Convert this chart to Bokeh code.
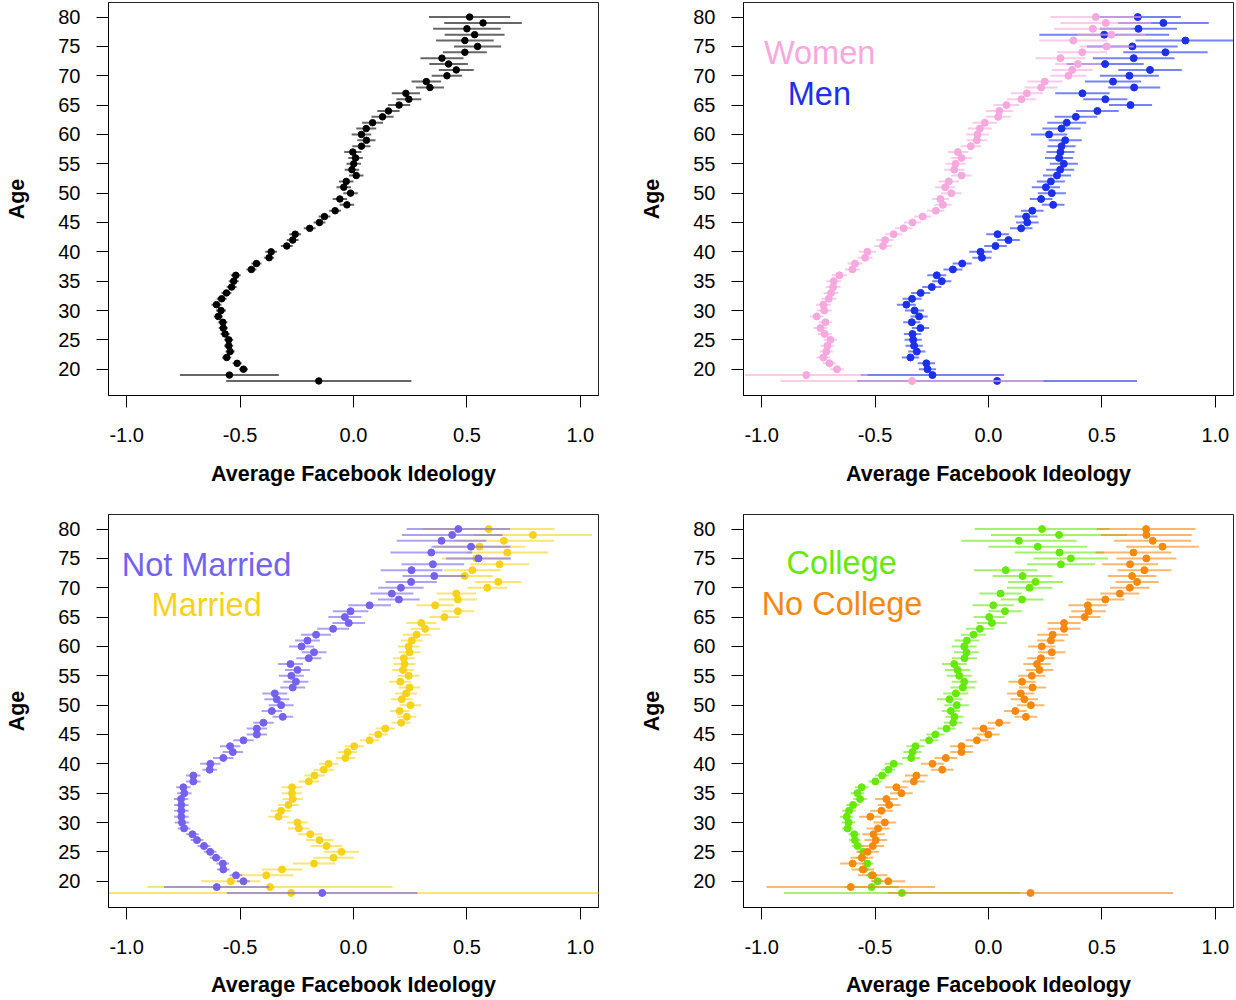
from bokeh.plotting import figure
from bokeh.layouts import column, row
from bokeh.models import Range1d, Label, FixedTicker, PrintfTickFormatter
from bokeh.embed import file_html
from bokeh.resources import INLINE

ages = list(range(18, 81))
x_ticks = [-1.0, -0.5, 0.0, 0.5, 1.0]
y_ticks = [20, 25, 30, 35, 40, 45, 50, 55, 60, 65, 70, 75, 80]

# ---- Panel 1: all users (ages 18..80)
all_mean = [-0.153, -0.547, -0.485, -0.513, -0.559, -0.544, -0.550, -0.550, -0.566, -0.574,
            -0.576, -0.596, -0.584, -0.604, -0.581, -0.560, -0.537, -0.528, -0.519, -0.450,
            -0.428, -0.372, -0.363, -0.294, -0.268, -0.257, -0.193, -0.150, -0.128, -0.081,
            -0.029, -0.060, -0.013, -0.043, -0.032, 0.012, -0.007, 0.001, 0.009, -0.003,
            0.035, 0.057, 0.035, 0.056, 0.084, 0.128, 0.154, 0.201, 0.244, 0.231,
            0.337, 0.321, 0.412, 0.453, 0.419, 0.390, 0.491, 0.547, 0.491, 0.534,
            0.500, 0.571, 0.512]
all_err = [0.408, 0.218, 0.020, 0.020, 0.020, 0.020, 0.020, 0.020, 0.020, 0.020,
           0.020, 0.020, 0.022, 0.022, 0.022, 0.022, 0.022, 0.022, 0.022, 0.022,
           0.022, 0.022, 0.026, 0.026, 0.026, 0.026, 0.026, 0.026, 0.026, 0.026,
           0.032, 0.032, 0.032, 0.032, 0.032, 0.032, 0.032, 0.032, 0.032, 0.038,
           0.040, 0.040, 0.043, 0.044, 0.046, 0.049, 0.049, 0.049, 0.055, 0.062,
           0.062, 0.065, 0.067, 0.077, 0.085, 0.095, 0.097, 0.104, 0.127, 0.132,
           0.149, 0.171, 0.179]

# ---- Panel 2: women / men
women_mean = [-0.337, -0.803, -0.668, -0.701, -0.728, -0.715, -0.710, -0.697, -0.722, -0.741,
              -0.719, -0.757, -0.724, -0.728, -0.704, -0.694, -0.685, -0.682, -0.657, -0.600,
              -0.588, -0.544, -0.534, -0.465, -0.456, -0.418, -0.374, -0.335, -0.290, -0.232,
              -0.201, -0.212, -0.164, -0.191, -0.175, -0.119, -0.151, -0.145, -0.119, -0.135,
              -0.078, -0.051, -0.048, -0.038, -0.016, 0.043, 0.048, 0.079, 0.145, 0.169,
              0.232, 0.248, 0.352, 0.369, 0.394, 0.317, 0.413, 0.521, 0.374, 0.542,
              0.460, 0.517, 0.473]
women_err = [0.580, 0.270, 0.030, 0.030, 0.030, 0.030, 0.030, 0.030, 0.030, 0.030,
             0.030, 0.030, 0.033, 0.033, 0.033, 0.033, 0.033, 0.033, 0.033, 0.033,
             0.033, 0.033, 0.038, 0.038, 0.038, 0.038, 0.038, 0.038, 0.038, 0.038,
             0.038, 0.038, 0.045, 0.045, 0.045, 0.045, 0.045, 0.045, 0.045, 0.045,
             0.045, 0.045, 0.050, 0.053, 0.055, 0.055, 0.059, 0.057, 0.064, 0.070,
             0.073, 0.077, 0.080, 0.090, 0.100, 0.110, 0.110, 0.120, 0.150, 0.150,
             0.170, 0.200, 0.200]
men_mean = [0.038, -0.247, -0.269, -0.274, -0.344, -0.316, -0.328, -0.332, -0.335, -0.300,
            -0.338, -0.306, -0.326, -0.362, -0.337, -0.299, -0.250, -0.206, -0.228, -0.157,
            -0.116, -0.029, -0.035, 0.031, 0.088, 0.040, 0.144, 0.171, 0.166, 0.193,
            0.285, 0.232, 0.279, 0.253, 0.275, 0.302, 0.316, 0.332, 0.311, 0.317,
            0.322, 0.338, 0.267, 0.322, 0.345, 0.385, 0.480, 0.626, 0.515, 0.414,
            0.642, 0.549, 0.621, 0.712, 0.514, 0.640, 0.780, 0.634, 0.868, 0.510,
            0.661, 0.771, 0.658]
men_err = [0.617, 0.316, 0.038, 0.038, 0.038, 0.038, 0.038, 0.038, 0.038, 0.038,
           0.038, 0.038, 0.042, 0.042, 0.042, 0.042, 0.042, 0.042, 0.042, 0.042,
           0.042, 0.042, 0.050, 0.050, 0.050, 0.050, 0.050, 0.050, 0.050, 0.050,
           0.050, 0.050, 0.062, 0.062, 0.062, 0.062, 0.062, 0.062, 0.062, 0.062,
           0.062, 0.073, 0.080, 0.084, 0.086, 0.094, 0.094, 0.095, 0.097, 0.120,
           0.115, 0.124, 0.130, 0.140, 0.170, 0.180, 0.186, 0.200, 0.220, 0.286,
           0.170, 0.200, 0.190]

# ---- Panel 3: not married / married
notmar_mean = [-0.138, -0.603, -0.485, -0.518, -0.574, -0.576, -0.606, -0.632, -0.659, -0.690,
               -0.710, -0.747, -0.756, -0.759, -0.759, -0.759, -0.760, -0.746, -0.750, -0.706,
               -0.706, -0.634, -0.631, -0.574, -0.532, -0.544, -0.485, -0.426, -0.426, -0.397,
               -0.312, -0.360, -0.319, -0.338, -0.347, -0.268, -0.254, -0.274, -0.247, -0.278,
               -0.197, -0.174, -0.229, -0.203, -0.165, -0.090, -0.021, -0.038, -0.013, 0.071,
               0.200, 0.169, 0.209, 0.254, 0.356, 0.256, 0.350, 0.551, 0.343, 0.518,
               0.388, 0.435, 0.462]
notmar_err = [0.420, 0.232, 0.028, 0.028, 0.028, 0.028, 0.028, 0.028, 0.028, 0.028,
              0.028, 0.028, 0.032, 0.032, 0.032, 0.032, 0.032, 0.032, 0.032, 0.032,
              0.032, 0.032, 0.045, 0.045, 0.045, 0.045, 0.045, 0.045, 0.045, 0.045,
              0.045, 0.045, 0.055, 0.055, 0.055, 0.055, 0.055, 0.055, 0.055, 0.055,
              0.055, 0.055, 0.055, 0.055, 0.066, 0.070, 0.072, 0.073, 0.078, 0.094,
              0.092, 0.095, 0.100, 0.113, 0.140, 0.136, 0.138, 0.143, 0.180, 0.174,
              0.197, 0.222, 0.228]
married_mean = [-0.275, -0.368, -0.541, -0.385, -0.315, -0.174, -0.088, -0.053, -0.119, -0.150,
                -0.191, -0.241, -0.247, -0.331, -0.319, -0.287, -0.268, -0.271, -0.271, -0.197,
                -0.172, -0.131, -0.110, -0.035, -0.026, 0.003, 0.071, 0.109, 0.140, 0.210,
                0.235, 0.203, 0.251, 0.213, 0.232, 0.247, 0.206, 0.243, 0.218, 0.225,
                0.222, 0.247, 0.243, 0.257, 0.278, 0.316, 0.299, 0.401, 0.460, 0.360,
                0.460, 0.453, 0.590, 0.638, 0.490, 0.524, 0.644, 0.541, 0.678, 0.556,
                0.663, 0.791, 0.596]
married_err = [1.500, 0.540, 0.130, 0.120, 0.090, 0.094, 0.088, 0.078, 0.069, 0.060,
               0.053, 0.048, 0.045, 0.045, 0.045, 0.045, 0.045, 0.045, 0.045, 0.045,
               0.045, 0.045, 0.042, 0.042, 0.042, 0.042, 0.042, 0.042, 0.042, 0.042,
               0.042, 0.042, 0.048, 0.048, 0.048, 0.048, 0.048, 0.048, 0.048, 0.048,
               0.048, 0.048, 0.048, 0.048, 0.061, 0.065, 0.066, 0.066, 0.071, 0.083,
               0.085, 0.087, 0.088, 0.103, 0.124, 0.125, 0.130, 0.150, 0.180, 0.200,
               0.220, 0.260, 0.290]

# ---- Panel 4: college / no college
college_mean = [-0.382, -0.515, -0.489, -0.515, -0.550, -0.534, -0.558, -0.552, -0.577, -0.589,
                -0.592, -0.621, -0.617, -0.625, -0.615, -0.597, -0.566, -0.578, -0.559, -0.499,
                -0.469, -0.441, -0.418, -0.341, -0.335, -0.322, -0.262, -0.234, -0.185, -0.156,
                -0.150, -0.166, -0.140, -0.172, -0.144, -0.113, -0.107, -0.129, -0.137, -0.151,
                -0.106, -0.097, -0.107, -0.095, -0.066, -0.038, 0.015, 0.003, 0.073, 0.021,
                0.148, 0.053, 0.181, 0.207, 0.150, 0.076, 0.319, 0.363, 0.313, 0.217,
                0.134, 0.311, 0.236]
college_err = [0.520, 0.120, 0.025, 0.025, 0.025, 0.025, 0.025, 0.025, 0.025, 0.025,
               0.025, 0.025, 0.030, 0.030, 0.030, 0.030, 0.030, 0.030, 0.030, 0.030,
               0.030, 0.030, 0.040, 0.040, 0.040, 0.040, 0.040, 0.040, 0.040, 0.040,
               0.040, 0.040, 0.055, 0.055, 0.055, 0.055, 0.055, 0.055, 0.055, 0.055,
               0.055, 0.055, 0.055, 0.055, 0.055, 0.062, 0.066, 0.068, 0.074, 0.090,
               0.094, 0.093, 0.100, 0.121, 0.132, 0.140, 0.150, 0.164, 0.197, 0.218,
               0.254, 0.300, 0.297]
nocol_mean = [0.185, -0.607, -0.442, -0.510, -0.554, -0.599, -0.558, -0.533, -0.510, -0.497,
              -0.507, -0.487, -0.457, -0.521, -0.472, -0.438, -0.450, -0.384, -0.406, -0.329,
              -0.318, -0.204, -0.247, -0.188, -0.119, -0.119, -0.051, -0.001, -0.022, 0.047,
              0.165, 0.118, 0.187, 0.158, 0.142, 0.194, 0.148, 0.191, 0.225, 0.214,
              0.231, 0.279, 0.235, 0.275, 0.283, 0.333, 0.333, 0.424, 0.441, 0.438,
              0.515, 0.579, 0.623, 0.655, 0.633, 0.687, 0.624, 0.696, 0.639, 0.767,
              0.724, 0.696, 0.695]
nocol_err = [0.629, 0.371, 0.075, 0.065, 0.050, 0.055, 0.050, 0.050, 0.050, 0.050,
             0.050, 0.050, 0.050, 0.050, 0.050, 0.050, 0.050, 0.050, 0.050, 0.050,
             0.050, 0.050, 0.050, 0.050, 0.050, 0.050, 0.050, 0.050, 0.050, 0.050,
             0.050, 0.050, 0.060, 0.060, 0.060, 0.060, 0.060, 0.060, 0.060, 0.060,
             0.060, 0.060, 0.060, 0.060, 0.068, 0.072, 0.073, 0.070, 0.076, 0.086,
             0.084, 0.086, 0.087, 0.095, 0.107, 0.118, 0.123, 0.132, 0.167, 0.160,
             0.170, 0.200, 0.217]

FONT = "Liberation Sans"
BLACK = "#000000"
PINK = "#F7A8DE"
BLUE = "#1C30E8"
PURPLE = "#7462EE"
GOLD = "#F6D21A"
GREEN = "#66E80A"
ORANGE = "#F5890F"


def make_fig(width, height, left, right, top, bottom, xlab_standoff):
    p = figure(width=width, height=height,
               x_range=Range1d(-1.08, 1.08), y_range=Range1d(15.52, 82.48),
               output_backend="svg", toolbar_location=None,
               min_border_left=left, min_border_right=right,
               min_border_top=top, min_border_bottom=bottom,
               background_fill_color="white", border_fill_color="white")
    p.grid.visible = False
    p.outline_line_color = "black"
    p.outline_line_width = 1
    p.outline_line_alpha = 0.85
    for ax in (p.xaxis[0], p.yaxis[0]):
        ax.major_tick_out = 12
        ax.major_tick_in = 0
        ax.minor_tick_line_color = None
        ax.major_tick_line_color = "black"
        ax.axis_line_color = "black"
        ax.major_label_text_font = FONT
        ax.major_label_text_font_size = "20px"
        ax.major_label_text_color = "black"
        ax.axis_label_text_font = FONT
        ax.axis_label_text_font_size = "21.5px"
        ax.axis_label_text_font_style = "bold"
        ax.axis_label_text_color = "black"
    p.xaxis.ticker = FixedTicker(ticks=x_ticks)
    p.xaxis.formatter = PrintfTickFormatter(format="%.1f")
    p.yaxis.ticker = FixedTicker(ticks=y_ticks)
    p.xaxis.major_label_standoff = 20
    p.yaxis.major_label_standoff = 16
    p.xaxis.axis_label = "Average Facebook Ideology"
    p.yaxis.axis_label = "Age"
    p.xaxis.axis_label_standoff = xlab_standoff
    p.yaxis.axis_label_standoff = 26
    return p


def add_series(p, mean, err, color, size=7):
    lo = [m - e for m, e in zip(mean, err)]
    hi = [m + e for m, e in zip(mean, err)]
    p.segment(x0=lo, y0=ages, x1=hi, y1=ages, line_color=color,
              line_width=2, line_alpha=0.6)
    p.scatter(x=mean, y=ages, size=size, fill_color=color, line_color=color)


def add_text(p, x, y, text, color):
    p.add_layout(Label(x=x, y=y, text=text, text_color=color,
                       text_font=FONT, text_font_size="32.5px",
                       text_baseline="middle", text_align="left"))


p1 = make_fig(635, 504, 108, 37, 2, 109, 17)
add_series(p1, all_mean, all_err, BLACK, size=6.5)

p2 = make_fig(599, 504, 108, 1, 2, 109, 17)
add_series(p2, men_mean, men_err, BLUE)
add_series(p2, women_mean, women_err, PINK)
add_text(p2, -0.99, 73.9, "Women", PINK)
add_text(p2, -0.885, 66.9, "Men", BLUE)

p3 = make_fig(635, 496, 108, 37, 10, 93, 16)
add_series(p3, married_mean, married_err, GOLD)
add_series(p3, notmar_mean, notmar_err, PURPLE)
add_text(p3, -1.022, 73.9, "Not Married", PURPLE)
add_text(p3, -0.89, 67.0, "Married", GOLD)

p4 = make_fig(599, 496, 108, 1, 10, 93, 16)
add_series(p4, college_mean, college_err, GREEN)
add_series(p4, nocol_mean, nocol_err, ORANGE)
add_text(p4, -0.89, 74.2, "College", GREEN)
add_text(p4, -1.0, 67.2, "No College", ORANGE)

layout = column(row(p1, p2), row(p3, p4))
open("out.html", "w").write(file_html(layout, INLINE))
